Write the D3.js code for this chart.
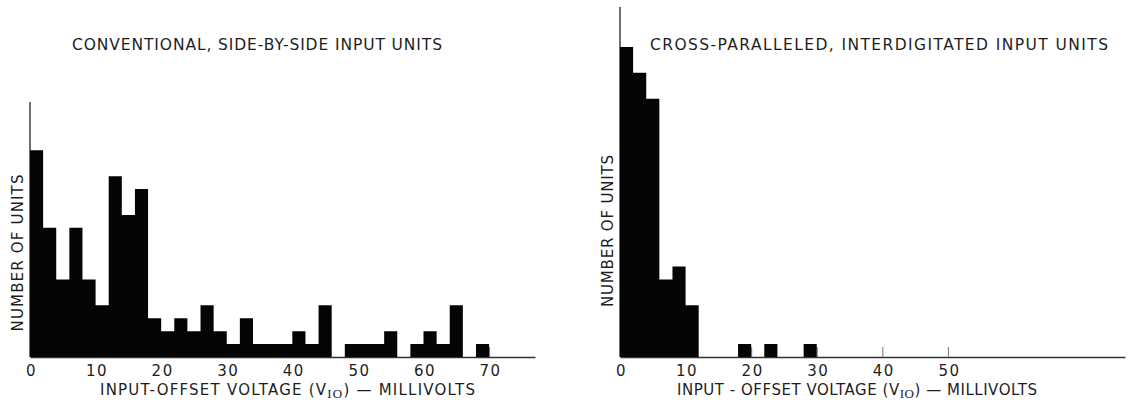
<!DOCTYPE html>
<html><head><meta charset="utf-8">
<script src="https://cdn.jsdelivr.net/npm/d3@7"></script>
<style>
html,body{margin:0;padding:0;background:#fff;}
svg{display:block;}
text{font-family:"DejaVu Sans","Liberation Sans",sans-serif;fill:#1e1e1e;}
</style></head>
<body>
<svg id="c" width="1142" height="403"></svg>
<script>
// ---- data ----
const binWidth = 2; // millivolts per bin
const leftBinStarts = d3.range(0, 70, 2);
const leftCounts = [16,10,6,10,6,4,14,11,13,3,2,3,2,4,2,1,3,1,1,1,2,1,4,0,1,1,1,2,0,1,2,1,4,0,1];
const rightBinStarts = d3.range(0, 30, 2);
const rightCounts = [24,22,20,6,7,4,0,0,0,1,0,1,0,0,1];
const leftTicks = [0,10,20,30,40,50,60,70];
const rightTicks = [0,10,20,30,40,50];
const leftTitle = "CONVENTIONAL, SIDE-BY-SIDE INPUT UNITS";
const rightTitle = "CROSS-PARALLELED, INTERDIGITATED INPUT UNITS";
const yTitle = "NUMBER OF UNITS";

const svg = d3.select("#c");
const y = d3.scaleLinear().domain([0, 27.1]).range([357, 7]);

function panel(o){
  const g = svg.append("g");
  const x = d3.scaleLinear().domain([0, 77]).range([o.x0, o.x0 + 505]);
  // axis with upward ticks (drawn beneath bars)
  const ax = d3.axisBottom(x).tickValues(o.ticks).tickSizeInner(-10).tickSizeOuter(0).tickPadding(8);
  const axg = g.append("g").attr("transform", `translate(0,${y(0)})`).call(ax);
  axg.select(".domain").attr("stroke", "#333").attr("stroke-width", 1.6);
  axg.selectAll(".tick line").attr("stroke", "#777").attr("stroke-width", 1);
  axg.selectAll(".tick text").attr("font-size", 15).attr("letter-spacing", 1.5).attr("fill", "#1e1e1e")
     .attr("dx", 1);
  // y axis line
  g.append("line").attr("x1", x(0)).attr("x2", x(0)).attr("y1", y(0)).attr("y2", y(o.yTop))
    .attr("stroke", "#333").attr("stroke-width", 1.4);
  // histogram bars as step area
  const pts = o.starts.map((s, i) => [s, o.counts[i]]);
  pts.push([o.starts[o.starts.length - 1] + binWidth, o.counts[o.counts.length - 1]]);
  const area = d3.area().x(d => x(d[0])).y0(y(0)).y1(d => y(d[1])).curve(d3.curveStepAfter);
  g.append("path").attr("d", area(pts)).attr("fill", "#050505");
  // title
  g.append("text").attr("x", o.tx).attr("y", 50).attr("font-size", 15.5)
    .attr("textLength", o.tw).attr("lengthAdjust", "spacing").text(o.title);
  // y title
  g.append("text").attr("transform", `translate(${o.yx},${o.yc}) rotate(-90)`)
    .attr("text-anchor", "middle").attr("dy", "0.35em").attr("font-size", 15)
    .attr("textLength", o.yl).attr("lengthAdjust", "spacing").text(yTitle);
  // x title with subscript
  const xt = g.append("text").attr("x", o.xx).attr("y", 395).attr("font-size", 15)
    .attr("textLength", o.xw).attr("lengthAdjust", "spacing");
  xt.append("tspan").text(o.xPre + "(V");
  xt.append("tspan").attr("font-family", "Liberation Serif,serif").attr("font-size", 13).attr("dy", 3).text("IO");
  xt.append("tspan").attr("dy", -3).text(") \u2014 MILLIVOLTS");
  return x;
}

panel({x0: 30, ticks: leftTicks, starts: leftBinStarts, counts: leftCounts, yTop: 19.75,
  title: leftTitle, tx: 72, tw: 370, yx: 18, yc: 253, yl: 157,
  xPre: "INPUT-OFFSET VOLTAGE ", xx: 100, xw: 375});
panel({x0: 620, ticks: rightTicks, starts: rightBinStarts, counts: rightCounts, yTop: 27.1,
  title: rightTitle, tx: 650, tw: 458, yx: 608, yc: 231, yl: 152,
  xPre: "INPUT - OFFSET VOLTAGE ", xx: 677, xw: 360});
</script>
</body></html>
